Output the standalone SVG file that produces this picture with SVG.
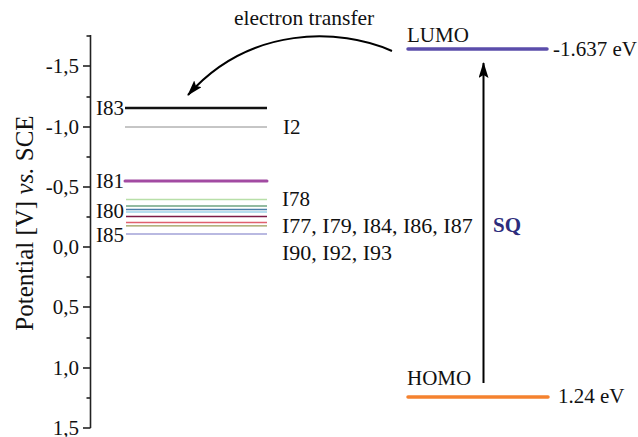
<svg xmlns="http://www.w3.org/2000/svg" width="638" height="437" viewBox="0 0 638 437">
<style>
text{font-family:"Liberation Serif","Times New Roman",serif;fill:#111;}
.t{font-size:21px;}
.tick{font-size:21px;text-anchor:end;}
.ax{stroke:#222;stroke-width:1.6;fill:none;}
.lvl{fill:none;}
</style>
<defs>
<marker id="ah" viewBox="0 0 16 10" refX="15" refY="5" markerWidth="16" markerHeight="10" markerUnits="userSpaceOnUse" orient="auto">
<path d="M0,0 L16,5 L0,10 L3,5 Z" fill="#000"/>
</marker>
</defs>
<g id="axis">
<line class="ax" x1="90.5" y1="35" x2="90.5" y2="428"/>
<g class="ax">
<line x1="83" y1="66" x2="90.5" y2="66"/>
<line x1="83" y1="127" x2="90.5" y2="127"/>
<line x1="83" y1="187" x2="90.5" y2="187"/>
<line x1="83" y1="247" x2="90.5" y2="247"/>
<line x1="83" y1="307" x2="90.5" y2="307"/>
<line x1="83" y1="368" x2="90.5" y2="368"/>
<line x1="83" y1="428" x2="90.5" y2="428"/>
<line x1="86.5" y1="36" x2="90.5" y2="36"/>
<line x1="86.5" y1="97" x2="90.5" y2="97"/>
<line x1="86.5" y1="157" x2="90.5" y2="157"/>
<line x1="86.5" y1="217" x2="90.5" y2="217"/>
<line x1="86.5" y1="277" x2="90.5" y2="277"/>
<line x1="86.5" y1="338" x2="90.5" y2="338"/>
<line x1="86.5" y1="398" x2="90.5" y2="398"/>
</g>
<text class="tick" x="79" y="73">-1,5</text>
<text class="tick" x="79" y="134">-1,0</text>
<text class="tick" x="79" y="194">-0,5</text>
<text class="tick" x="79" y="254">0,0</text>
<text class="tick" x="79" y="314">0,5</text>
<text class="tick" x="79" y="375">1,0</text>
<text class="tick" x="79" y="435">1,5</text>
<text transform="translate(33,223) rotate(-90)" text-anchor="middle" style="font-size:25px">Potential [V] <tspan font-style="italic">vs.</tspan> SCE</text>
</g>
<g id="levels">
<line class="lvl" x1="125" y1="108" x2="267" y2="108" stroke="#111" stroke-width="2.4"/>
<line class="lvl" x1="125" y1="127" x2="267" y2="127" stroke="#8c8c8c" stroke-width="1"/>
<line class="lvl" x1="125" y1="181" x2="267" y2="181" stroke="#a24ba2" stroke-width="3" stroke-linecap="round"/>
<line class="lvl" x1="126" y1="199.5" x2="267" y2="199.5" stroke="#b8dfa8" stroke-width="1.3"/>
<line class="lvl" x1="126" y1="206" x2="267" y2="206" stroke="#6fa582" stroke-width="1.3"/>
<line class="lvl" x1="126" y1="209.5" x2="267" y2="209.5" stroke="#4c7fa8" stroke-width="1.5"/>
<line class="lvl" x1="126" y1="212" x2="267" y2="212" stroke="#9fd3ea" stroke-width="1.5"/>
<line class="lvl" x1="126" y1="216.5" x2="267" y2="216.5" stroke="#7d1a47" stroke-width="1.4"/>
<line class="lvl" x1="126" y1="222.5" x2="267" y2="222.5" stroke="#e0606e" stroke-width="1.5"/>
<line class="lvl" x1="126" y1="225.8" x2="267" y2="225.8" stroke="#9a9a55" stroke-width="1.3"/>
<line class="lvl" x1="126" y1="234" x2="267" y2="234" stroke="#7474c4" stroke-width="1.2"/>
</g>
<g id="labels-left">
<text class="t" x="96" y="115">I83</text>
<text class="t" x="283" y="134">I2</text>
<text class="t" x="96" y="188">I81</text>
<text class="t" x="96" y="218">I80</text>
<text class="t" x="96" y="242">I85</text>
<text class="t" x="282" y="206">I78</text>
<text class="t" x="282" y="233" style="font-size:22px">I77, I79, I84, I86, I87</text>
<text class="t" x="282" y="260" style="font-size:22px">I90, I92, I93</text>
</g>
<g id="lumo">
<line x1="408" y1="49" x2="547" y2="49" stroke="#5b4dab" stroke-width="3.5" stroke-linecap="round"/>
<text class="t" x="407" y="42">LUMO</text>
<text class="t" x="553" y="56">-1.637 eV</text>
</g>
<g id="homo">
<line x1="408" y1="397" x2="548" y2="397" stroke="#f5822f" stroke-width="3.5" stroke-linecap="round"/>
<text class="t" x="407" y="385">HOMO</text>
<text class="t" x="558" y="403">1.24 eV</text>
</g>
<g id="sq">
<text x="493" y="232" style="font-size:21px;font-weight:bold;fill:#2d2c7c">SQ</text>
</g>
<g id="connectors">
<line x1="483.5" y1="383" x2="483.5" y2="63" stroke="#000" stroke-width="2" marker-end="url(#ah)"/>
<path d="M392,51 C340,28 250,25 188,95" fill="none" stroke="#000" stroke-width="2" marker-end="url(#ah)"/>
<text x="234" y="25" style="font-size:21.5px">electron transfer</text>
</g>
</svg>
